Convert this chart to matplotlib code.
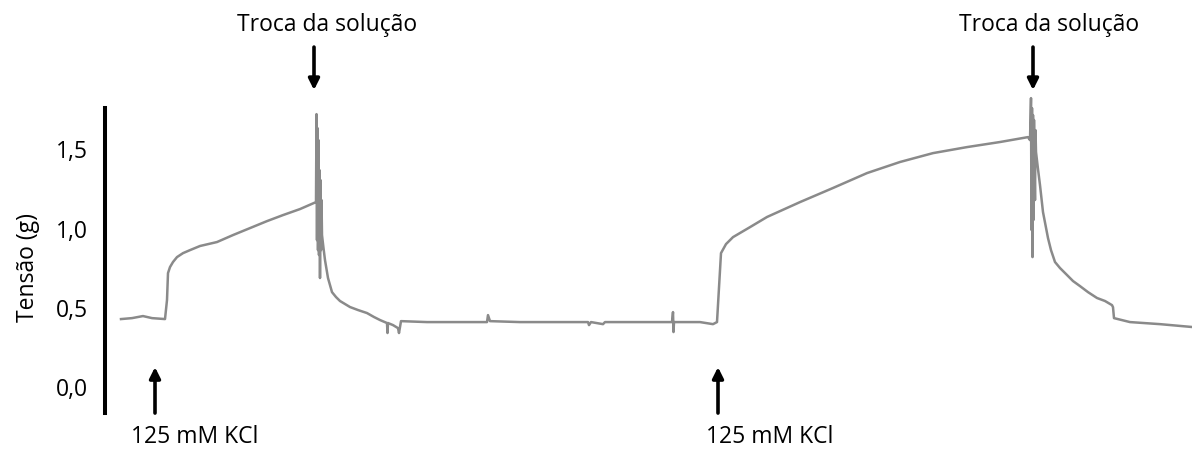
import matplotlib
matplotlib.use("Agg")
import matplotlib.pyplot as plt

plt.rcParams['font.family'] = ['Open Sans', 'DejaVu Sans']

# %% Trace (time in arbitrary units, tension in g)
t_trace = [121, 132, 143, 152, 165, 167, 168, 170, 173, 177, 183, 190, 200,
           217, 233, 250, 267, 283, 300, 316,
           316.5, 317, 317.5, 318, 318.5, 319, 319.5, 320, 320.5, 321, 321.5,
           322, 323.5, 325, 328, 332, 336, 340, 345, 350, 358, 367, 374, 380,
           387, 387.5, 388, 393, 398, 399, 401, 427, 450, 487, 488, 490, 520,
           588, 589, 591, 603, 605, 672, 673, 673.5, 674, 700, 713, 717,
           721, 726, 733, 750, 767, 800, 833, 867, 900, 933, 967, 1000, 1028,
           1030,
           1031, 1031.5, 1032, 1032.5, 1033, 1033.5, 1034, 1035, 1035.5,
           1036, 1038, 1040, 1043, 1048, 1051, 1055, 1060, 1067, 1073, 1080,
           1088, 1097, 1105, 1112, 1113, 1114, 1130, 1160, 1192]
tension = [0.429, 0.435, 0.448, 0.435, 0.429, 0.549, 0.719, 0.757, 0.789,
           0.820, 0.845, 0.864, 0.890, 0.915, 0.959, 1.003, 1.047, 1.085,
           1.123, 1.167,
           1.722, 0.927, 1.634, 0.864, 1.558, 0.833, 1.369, 0.688, 1.306,
           0.864, 1.180,
           0.959, 0.877, 0.801, 0.688, 0.599, 0.568, 0.543, 0.524, 0.505,
           0.486, 0.467, 0.442, 0.423,
           0.404, 0.341, 0.404, 0.391, 0.372, 0.341, 0.416, 0.410, 0.410,
           0.410, 0.454, 0.416, 0.410,
           0.410, 0.391, 0.410, 0.397, 0.410, 0.410, 0.473, 0.347, 0.410,
           0.410, 0.397, 0.410,
           0.845, 0.902, 0.946, 1.009, 1.073, 1.167, 1.256, 1.350, 1.420,
           1.476, 1.514, 1.546, 1.577,
           1.558,
           1.823, 0.991, 1.760, 0.820, 1.716, 1.054, 1.685, 1.180, 1.621,
           1.483, 1.375, 1.274, 1.104, 0.940, 0.864, 0.789, 0.751, 0.707,
           0.669, 0.637,
           0.599, 0.562, 0.543, 0.517, 0.504, 0.435, 0.410, 0.397, 0.379]

y_ticks = [0, 0.5, 1.0, 1.5]
y_tick_labels = ['0,0', '0,5', '1,0', '1,5']

# event markers: arrow time and where the label sits
kcl_times = [155, 718]
kcl_label_t = [195, 770]
troca_times = [314, 1033]
troca_label_t = [327, 1049]

# %% Figure
fig = plt.figure(figsize=(11.92, 4.5), dpi=100)
ax = fig.add_axes([105/1192, 0, 1 - 105/1192, 1])
ax.set_xlim(105, 1192)
ax.set_ylim(-0.397, 2.442)

ax.plot(t_trace, tension, color='#8a8a8a', linewidth=1.8)

for s in ['top', 'right', 'bottom']:
    ax.spines[s].set_visible(False)
ax.spines['left'].set_linewidth(2.9)
ax.spines['left'].set_bounds(-0.164, 1.760)
ax.set_xticks([])
ax.set_yticks(y_ticks)
ax.set_yticklabels(y_tick_labels, fontsize=16.5)
ax.tick_params(axis='y', length=0, pad=12)

fig.text(28/1192, 1 - 267/450, 'Tensão (g)', rotation=90,
         ha='center', va='center', fontsize=16.5)

arrow_style = dict(arrowstyle='-|>', color='black', lw=2.6,
                   mutation_scale=16, shrinkA=0, shrinkB=0)

for tk, tl in zip(kcl_times, kcl_label_t):
    ax.annotate('', xy=(tk, 0.126), xytext=(tk, -0.164),
                arrowprops=arrow_style)
    ax.text(tl, -0.318, '125 mM KCl', ha='center', va='center',
            fontsize=16.5)

for tt, tl in zip(troca_times, troca_label_t):
    ax.annotate('', xy=(tt, 1.874), xytext=(tt, 2.145),
                arrowprops=arrow_style)
    ax.text(tl, 2.284, 'Troca da solução', ha='center', va='center',
            fontsize=16.5)

fig.savefig('out.png', dpi=100)
